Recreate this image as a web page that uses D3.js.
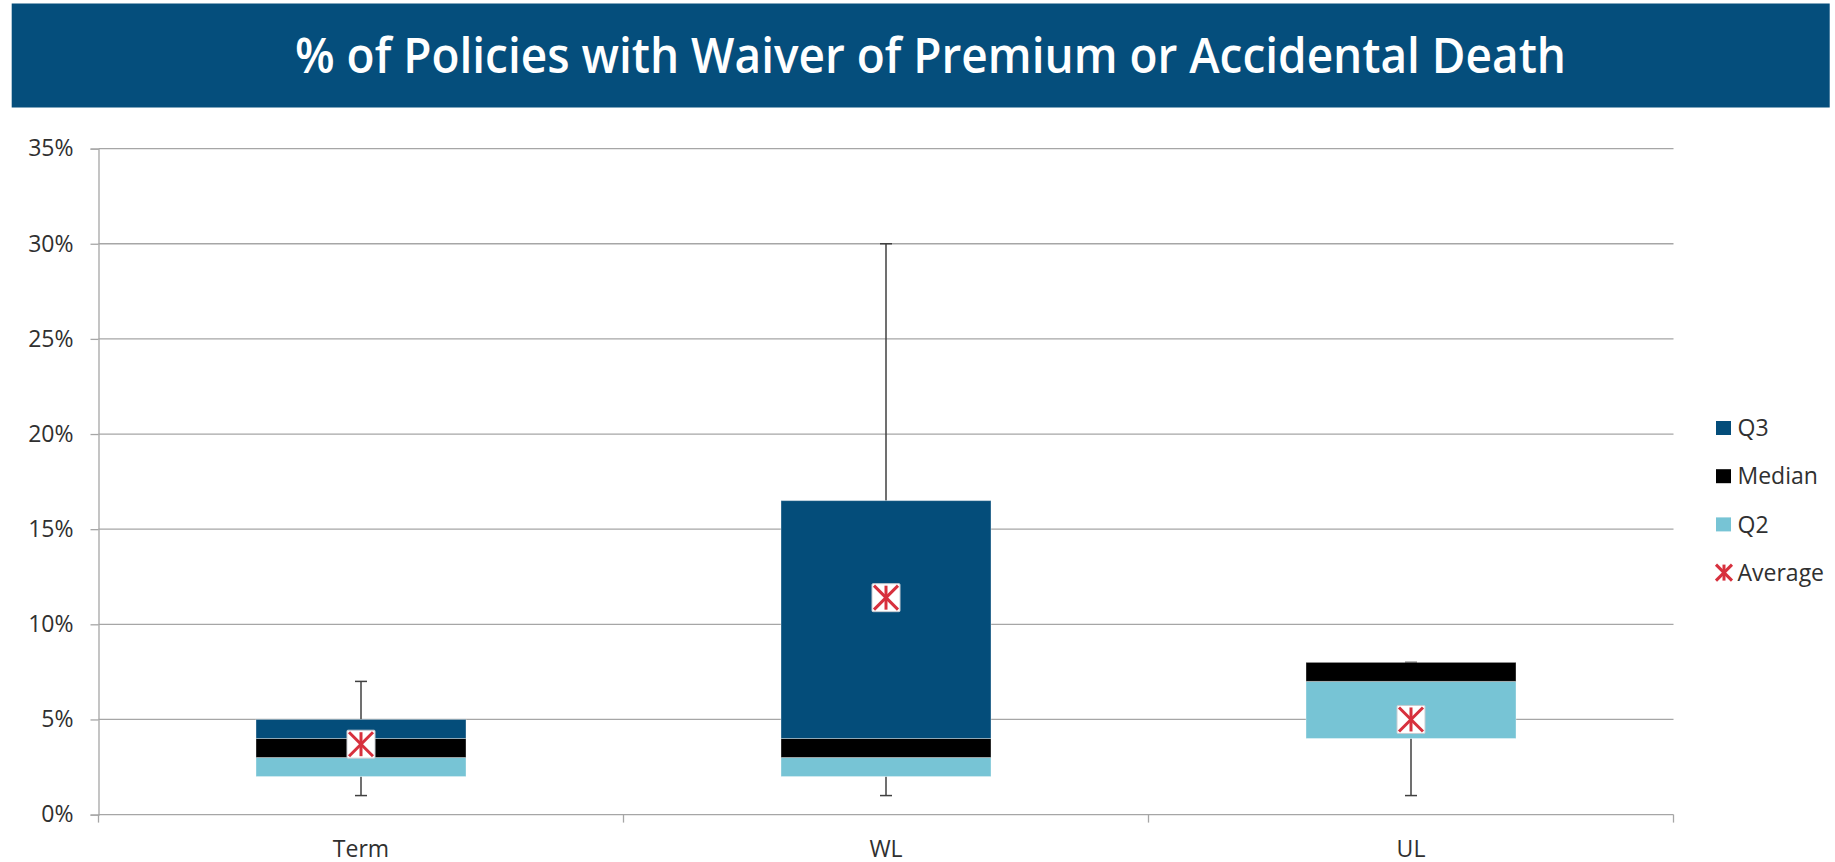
<!DOCTYPE html>
<html><head><meta charset="utf-8">
<script src="https://cdn.jsdelivr.net/npm/d3@7"></script>
<style>
html,body{margin:0;padding:0;background:#fff;}
svg{display:block;font-family:"Open Sans",sans-serif;}
</style></head>
<body>
<svg id="chart" width="1835" height="862"></svg>
<script>
// ---- data ----
const title = "% of Policies with Waiver of Premium or Accidental Death";
const categories = ["Term", "WL", "UL"];
const q1Base  = [2, 2, 4];       // hidden base (Q1)
const q2Seg   = [1, 1, 3];       // Q2 segment
const medSeg  = [1, 1, 1];       // Median segment
const q3Seg   = [1, 12.5, 0];    // Q3 segment
const minVals = [1, 1, 1];
const maxVals = [7, 30, 8];
const average = [3.7, 11.4, 5.0];
const yTicks  = [0, 5, 10, 15, 20, 25, 30, 35];
const seriesNames = ["Q3", "Median", "Q2", "Average"];

// ---- layout ----
const W = 1835, H = 862;
const plot = {left: 98.5, right: 1673.5, top: 148.6, bottom: 814.6};
const colors = {Q3: "#044D7A", Median: "#000000", Q2: "#77C4D5", Average: "#D7303D",
                banner: "#054E7C", grid: "#A6A6A6", text: "#303030", whisker: "#404040"};
const fs = 23;

const svg = d3.select("#chart");

// banner
svg.append("rect").attr("x", 11.7).attr("y", 3.5).attr("width", 1818).attr("height", 104)
  .attr("fill", colors.banner);
svg.append("text").attr("x", 930.5).attr("y", 73.3).attr("text-anchor", "middle")
  .attr("fill", "#fff").attr("font-weight", 600).attr("font-size", 48).text(title)
  .attr("textLength", 1271).attr("lengthAdjust", "spacingAndGlyphs");

const y = d3.scaleLinear().domain([0, 35]).range([plot.bottom, plot.top]);
const xb = d3.scaleBand().domain(categories).range([plot.left, plot.right])
  .paddingInner(0.6).paddingOuter(0.3);
const xAxisScale = d3.scaleBand().domain(categories).range([plot.left, plot.right]).padding(0);

// gridlines
svg.append("g").selectAll("line").data(yTicks.filter(d => d > 0)).join("line")
  .attr("x1", plot.left).attr("x2", plot.right)
  .attr("y1", d => y(d)).attr("y2", d => y(d))
  .attr("stroke", colors.grid).attr("stroke-width", 1.3);

// y axis
const yAxis = d3.axisLeft(y).tickValues(yTicks).tickFormat(d => d + "%").tickSize(8).tickPadding(17);
const gy = svg.append("g").attr("transform", `translate(${plot.left},0)`).call(yAxis);
gy.select(".domain").attr("stroke", colors.grid).attr("stroke-width", 1.3);
gy.selectAll(".tick line").attr("stroke", colors.grid).attr("stroke-width", 1.3);
gy.selectAll(".tick text").attr("fill", colors.text).attr("font-size", fs)
  .attr("font-family", "Open Sans");

// x axis
const boundaries = [plot.left].concat(categories.map(c => xAxisScale(c) + xAxisScale.bandwidth()));
const gx = svg.append("g");
gx.append("line").attr("x1", plot.left).attr("x2", plot.right)
  .attr("y1", y(0)).attr("y2", y(0)).attr("stroke", colors.grid).attr("stroke-width", 1.3);
gx.selectAll("line.tk").data(boundaries).join("line").attr("class", "tk")
  .attr("x1", d => d).attr("x2", d => d).attr("y1", y(0)).attr("y2", y(0) + 8)
  .attr("stroke", colors.grid).attr("stroke-width", 1.3);
gx.selectAll("text").data(categories).join("text")
  .attr("x", d => xAxisScale(d) + xAxisScale.bandwidth() / 2)
  .attr("y", 856.5).attr("text-anchor", "middle")
  .attr("fill", colors.text).attr("font-size", fs).text(d => d);

// rows
const rows = categories.map((c, i) => ({
  c, q1: q1Base[i], q2: q1Base[i] + q2Seg[i], med: q1Base[i] + q2Seg[i] + medSeg[i],
  q3: q1Base[i] + q2Seg[i] + medSeg[i] + q3Seg[i], min: minVals[i], max: maxVals[i], avg: average[i]
}));
const cx = d => xb(d.c) + xb.bandwidth() / 2;

// whiskers
const wg = svg.append("g").attr("stroke", colors.whisker).attr("stroke-width", 1.5);
rows.forEach(d => {
  wg.append("line").attr("x1", cx(d)).attr("x2", cx(d)).attr("y1", y(d.min)).attr("y2", y(d.q1));
  wg.append("line").attr("x1", cx(d)).attr("x2", cx(d)).attr("y1", y(d.max)).attr("y2", y(d.q3));
  [d.min, d.max].forEach(v => wg.append("line").attr("x1", cx(d) - 6).attr("x2", cx(d) + 6)
    .attr("y1", y(v)).attr("y2", y(v)));
});

// stacked box segments
const segs = [];
rows.forEach(d => {
  segs.push({c: d.c, lo: d.q1, hi: d.q2, fill: colors.Q2});
  segs.push({c: d.c, lo: d.q2, hi: d.med, fill: colors.Median});
  segs.push({c: d.c, lo: d.med, hi: d.q3, fill: colors.Q3});
});
svg.append("g").selectAll("rect").data(segs.filter(s => s.hi > s.lo)).join("rect")
  .attr("x", s => xb(s.c)).attr("width", xb.bandwidth())
  .attr("y", s => y(s.hi)).attr("height", s => y(s.lo) - y(s.hi))
  .attr("fill", s => s.fill).attr("stroke", "#ffffff").attr("stroke-opacity", 0.35).attr("stroke-width", 1);

// average markers
function asterisk(g, size, sw) {
  const h = size / 2;
  g.append("line").attr("x1", -h).attr("y1", -h).attr("x2", h).attr("y2", h);
  g.append("line").attr("x1", -h).attr("y1", h).attr("x2", h).attr("y2", -h);
  g.append("line").attr("x1", 0).attr("y1", -h).attr("x2", 0).attr("y2", h);
  g.attr("stroke", colors.Average).attr("stroke-width", sw);
}
rows.forEach(d => {
  const g = svg.append("g").attr("transform", `translate(${cx(d)},${y(d.avg)})`);
  g.append("rect").attr("x", -14).attr("y", -14).attr("width", 28).attr("height", 28)
    .attr("rx", 1).attr("fill", "#fff").attr("stroke", "#c8ccd2").attr("stroke-width", 1);
  asterisk(g.append("g"), 24, 3);
});

// legend
const lg = svg.append("g").attr("transform", "translate(1716,428)");
seriesNames.forEach((n, i) => {
  const g = lg.append("g").attr("transform", `translate(0,${i * 48.2})`);
  if (n === "Average") {
    asterisk(g.append("g").attr("transform", "translate(8,0)"), 16, 3);
  } else {
    g.append("rect").attr("x", 0).attr("y", -7).attr("width", 15).attr("height", 14).attr("fill", colors[n]);
  }
  g.append("text").attr("x", 21.5).attr("y", 8.2)
    .attr("fill", colors.text).attr("font-size", fs).text(n);
});
</script>
</body></html>
